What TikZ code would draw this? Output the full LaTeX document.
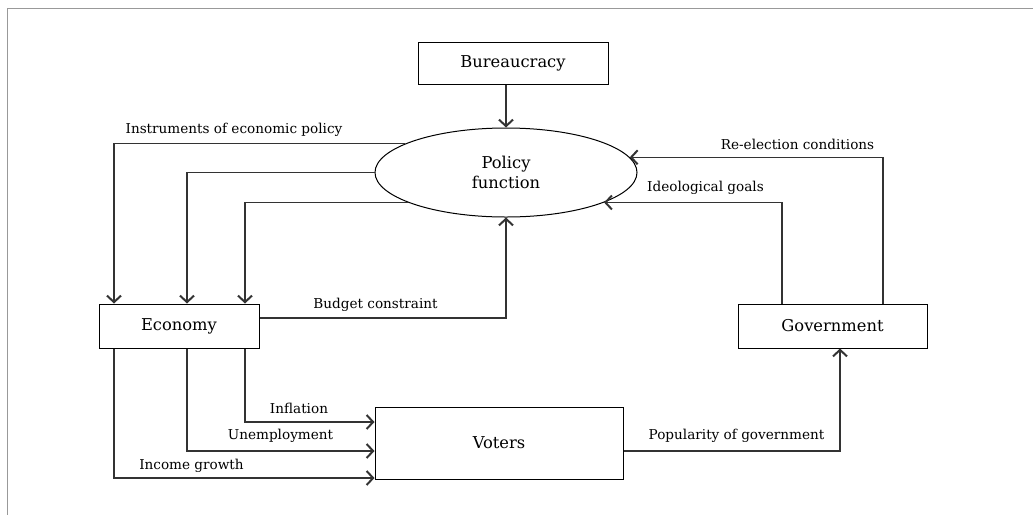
\documentclass[tikz,border=0pt]{standalone}
\usepackage{fontspec}
\setmainfont{DejaVu Serif}
\usepackage{tikz}
\usetikzlibrary{shapes,shapes.geometric,arrows.meta,calc,positioning}
\tikzset{blk/.style={draw, rectangle, line width=1pt, fill=white, inner sep=0pt, font=\fontsize{16.3}{19.5}\selectfont}}
\tikzstyle{lbl}=[inner sep=0pt, font=\fontsize{13.6}{16}\selectfont]
\tikzstyle{conn}=[line width=1.4pt, draw=black!80]

\begin{document}
\begin{tikzpicture}[x=1pt, y=-1pt, >={Straight Barb[length=6.5pt,width=14pt,line width=2pt]}]
\useasboundingbox (0,0) rectangle (1033,515);
\draw[gray!80, line width=1pt] (1033,8) -- (7,8) -- (7,515);
% boxes
\node[blk, minimum width=190, minimum height=42] (bur) at (513,63) {Bureaucracy};
\node[blk, ellipse, minimum width=262, minimum height=89, align=center] (pol) at (506,172.5) {Policy\\function};
\node[blk, minimum width=160, minimum height=44] (eco) at (179,326) {Economy};
\node[blk, minimum width=189, minimum height=44] (gov) at (832.5,326) {Government};
\node[blk, minimum width=248, minimum height=72] (vot) at (499,443) {Voters};
% labels
\node[lbl] (Linst) at (234,130) {Instruments of economic policy};
\node[lbl] (Lbud) at (375.5,305) {Budget constraint};
\node[lbl] (Lree) at (797.5,144) {Re-election conditions};
\node[lbl] (Lide) at (705.5,188) {Ideological goals};
\node[lbl] (Linf) at (299,408) {Inflation};
\node[lbl] (Lunm) at (280.5,436) {Unemployment};
\node[lbl] (Linc) at (191.5,466) {Income growth};
\node[lbl] (Lpop) at (736.5,436) {Popularity of government};
% connectors
\draw[conn, ->] (pol.north |- bur.south) -- (pol.north);
\draw[conn, ->] (pol.164) -| ([xshift=-65]eco.north);
\draw[conn, ->] (pol.west) -| ([xshift=8]eco.north);
\draw[conn, ->] (pol.197) -| ([xshift=66]eco.north);
\draw[conn, ->] ([yshift=8]eco.east) -| (pol.south);
\draw[conn, ->] ([xshift=66]eco.south) |- ([yshift=21]vot.west);
\draw[conn, ->] ([xshift=8]eco.south) |- ([yshift=-8]vot.west);
\draw[conn, ->] ([xshift=-65]eco.south) |- ([yshift=-35]vot.west);
\draw[conn, ->] ([yshift=-8]vot.east) -| ([xshift=7.5]gov.south);
\draw[conn, ->] ([xshift=-50.5]gov.north) |- (pol.343);
\draw[conn, ->] ([xshift=50.5]gov.north) |- (pol.7);
\end{tikzpicture}
\end{document}
